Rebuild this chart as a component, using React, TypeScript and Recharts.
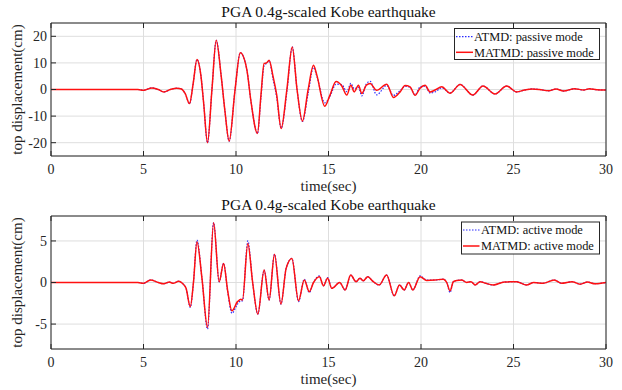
import React from 'react';
import { LineChart, Line, XAxis, YAxis, CartesianGrid } from 'recharts';

const FONT = '"Liberation Serif", "Times New Roman", serif';
const AXIS = '#262626';
const GRID = '#dedede';
const BLUE = '#2a2aff';
const RED = '#ff1010';

const TITLE = 'PGA 0.4g-scaled Kobe earthquake';
const X_LABEL = 'time(sec)';
const Y_LABEL = 'top displacement(cm)';
const X_TICKS = [0, 5, 10, 15, 20, 25, 30];
const PASSIVE_Y_TICKS = [-20, -10, 0, 10, 20];
const ACTIVE_Y_TICKS = [-5, 0, 5];
const PASSIVE_LEGEND = ['ATMD: passive mode', 'MATMD: passive mode'];
const ACTIVE_LEGEND = ['ATMD: active mode', 'MATMD: active mode'];

const PASSIVE_TIME = [
  0, 4.7, 5.0, 5.45, 5.8, 6.1, 6.45, 6.8, 7.05, 7.25, 7.49, 7.68, 7.89, 8.1, 8.25, 8.46, 8.7, 8.93,
  9.2, 9.4, 9.63, 9.95, 10.23, 10.59, 10.8, 11.16, 11.35, 11.52, 11.65, 11.79, 12.0, 12.2, 12.44,
  12.75, 13.04, 13.3, 13.59, 13.9, 14.19, 14.37, 14.8, 15.08, 15.41, 15.72, 15.99, 16.21, 16.39,
  16.62, 16.8, 17.04, 17.25, 17.6, 18.15, 18.51, 18.87, 19.14, 19.41, 19.68, 19.95, 20.22, 20.49,
  20.76, 21.12, 21.57, 22.11, 22.8, 23.35, 24.0, 24.63, 25.17, 25.6, 26.0, 26.4, 26.9, 27.3, 27.7,
  28.3, 28.8, 29.1, 29.5, 30,
];
const PASSIVE_MATMD = [
  0, 0, -0.3, 0.6, 0, -0.9, 0, 0.5, 0.2, -1.5, -5.3, 2, 11.3, 5.4, -5, -20, 0, 18.5,
  5, -8, -19.4, 0, 13.8, 7.3, -4, -16.5, -2, 9.8, 10, 11, 5, -2, -14.7,
  0, 16, 0, -11.9, 0, 9.1, 5.4, -6.3, -2.1, 3, 1.3, -2.1, 1.6, -0.9,
  1.6, -1.5, 1.6, 2.3, -0.3, 2.0, -3.0, -0.9, 1.5, 1.0, -2.2, 0.5, 1.6, -0.9,
  -0.2, 1.0, -1.4, 1.9, -2.1, 1.3, -1.7, 1.3, -0.9, -0.2, 0.2, 0.0, -0.5, 0.2, -0.6,
  0.3, -0.2, 0.3, -0.1, -0.2,
];
const PASSIVE_ATMD = [
  0, 0, -0.3, 0.6, 0, -0.9, 0, 0.5, 0.2, -1.5, -5.3, 2, 11.3, 5.4, -5, -20, 0, 18.5,
  5, -8, -19.4, 0, 13.8, 7.3, -4, -16.5, -3, 9.0, 9.8, 10.8, 4, -3, -14.5,
  -1, 16, 0, -12, -1.5, 8.3, 5.0, -5.0, -2.5, 2, 1.8, -0.8, 2.3, 0.3,
  0.8, -2.4, 2.0, 3.1, -2.0, 1.5, -2.2, -0.4, 1.2, 0.8, -2.0, 1.0, 1.3, -1.3,
  -0.9, 0.6, -1.3, 1.9, -2.1, 1.3, -1.7, 1.3, -0.9, -0.2, 0.2, 0.0, -0.5, 0.2, -0.6,
  0.3, -0.2, 0.3, -0.1, -0.2,
];

const ACTIVE_TIME = [
  0, 4.7, 5.0, 5.38, 5.8, 6.09, 6.4, 6.6, 6.9, 7.1, 7.3, 7.53, 7.7, 7.89, 8.16, 8.46, 8.79, 9.09,
  9.33, 9.55, 9.78, 10.08, 10.26, 10.35, 10.64, 10.9, 11.18, 11.52, 11.79, 12.08, 12.43, 12.71,
  13.02, 13.38, 13.69, 13.96, 14.19, 14.51, 14.73, 14.95, 15.18, 15.6, 15.9, 16.2, 16.49, 16.7,
  16.88, 17.12, 17.42, 17.74, 18.14, 18.55, 18.84, 19.09, 19.33, 19.56, 19.95, 20.31, 20.76,
  21.21, 21.39, 21.57, 21.75, 21.93, 22.2, 22.47, 22.7, 22.93, 23.2, 23.5, 23.9, 24.5, 25.17,
  25.7, 26.1, 26.6, 27.2, 27.6, 28.16, 28.6, 29.0, 29.4, 30,
];
const ACTIVE_MATMD = [
  0, 0, -0.1, 0.3, 0, -0.15, 0.05, -0.1, 0.15, -0.1, -0.7, -2.9, 0, 4.9, 0.5, -5.4, 7.2, 0.1,
  2.3, -1, -3.4, -2.3, -2.0, -2.1, 4.7, 0, -3.8, 1.5, -2.1, 3.4, -2.6, 1.7,
  2.9, -2.2, 0.3, -1.1, 0, 0.7, -0.4, 0.5, -0.7, 0, -0.9, 0.9, 0.1, 0.5,
  0.2, 0.7, 0.1, -0.3, 0.9, -1.6, -0.3, -0.9, 0, -0.9, 0.7, 0.25, 0.3,
  0.4, 0, -1.0, 0.1, 0.25, 0.3, 0, 0.1, -0.3, 0.1, -0.1, -0.3, 0.05, 0.1,
  -0.3, 0, -0.1, 0.3, -0.1, 0.1, -0.2, 0.05, -0.15, 0,
];
const ACTIVE_ATMD = [
  0, 0, -0.1, 0.3, 0, -0.15, 0.05, -0.1, 0.15, -0.1, -0.7, -3.0, 0, 5.1, 0.5, -5.6, 7.2, 0.1,
  2.3, -1.1, -3.7, -2.6, -2.2, -2.2, 5.0, 0, -3.8, 1.5, -2.1, 3.4, -2.6, 1.7,
  2.9, -2.3, 0.4, -1.2, 0, 0.8, -0.4, 0.6, -0.7, 0, -0.9, 0.9, 0.1, 0.5,
  0.2, 0.7, 0.1, -0.3, 0.9, -1.6, -0.3, -0.9, 0, -0.9, 0.8, 0.3, 0.3,
  0.4, 0, -1.2, 0.1, 0.25, 0.3, 0, 0.1, -0.3, 0.1, -0.1, -0.3, 0.05, 0.1,
  -0.3, 0, -0.1, 0.3, -0.1, 0.1, -0.2, 0.05, -0.15, 0,
];

const W = 622;
const H = 195;
const LEFT = 51;
const RIGHT = 16;
const TICK_FS = 14;
const XAXIS_H = 30;

const BottomTick = (p: any) => (
  <g>
    <line x1={p.x} x2={p.x} y1={p.y} y2={p.y - 5} stroke={AXIS} strokeWidth={1} />
    <text x={p.x} y={p.y + 17.5} textAnchor="middle" fontSize={TICK_FS} fontFamily={FONT} fill={AXIS}>
      {p.payload.value}
    </text>
  </g>
);
const TopTick = (p: any) => (
  <line x1={p.x} x2={p.x} y1={p.y} y2={p.y + 5} stroke={AXIS} strokeWidth={1} />
);
const LeftTick = (p: any) => (
  <g>
    <line x1={p.x} x2={p.x + 5} y1={p.y} y2={p.y} stroke={AXIS} strokeWidth={1} />
    <text x={p.x - 4} y={p.y + 4.8} textAnchor="end" fontSize={TICK_FS} fontFamily={FONT} fill={AXIS}>
      {p.payload.value}
    </text>
  </g>
);
const RightTick = (p: any) => (
  <line x1={p.x} x2={p.x - 5} y1={p.y} y2={p.y} stroke={AXIS} strokeWidth={1} />
);

type PanelProps = {
  time: number[];
  atmd: number[];
  matmd: number[];
  yDomain: [number, number];
  yTicks: number[];
  legend: string[];
  top: number;
  bottom: number;
  titleY: number;
  legendBox: { x: number; y: number; w: number; h: number; r1: number; r2: number; lx1: number; lx2: number; tx: number };
};

function Panel(props: PanelProps) {
  const { time, atmd, matmd, yDomain, yTicks, legend, top, bottom, titleY, legendBox } = props;
  const data = time.map((t, i) => ({ t, atmd: atmd[i], matmd: matmd[i] }));
  const plotBottom = H - bottom;
  const cx = (LEFT + (W - RIGHT)) / 2;
  const cy = (top + plotBottom) / 2;
  const lb = legendBox;
  return (
    <div style={{ position: 'relative', width: W, height: H }}>
      <LineChart
        width={W}
        height={H}
        data={data}
        margin={{ top: top - 1, right: RIGHT - 1, bottom: bottom - XAXIS_H, left: 0 }}
      >
        <CartesianGrid stroke={GRID} strokeWidth={1} />
        <XAxis
          dataKey="t"
          type="number"
          domain={[0, 30]}
          ticks={X_TICKS}
          interval={0}
          height={XAXIS_H}
          tickSize={0}
          tickMargin={0}
          tickLine={false}
          axisLine={{ stroke: AXIS }}
          tick={(p: any) => <BottomTick {...p} />}
        />
        <XAxis
          xAxisId="top"
          orientation="top"
          dataKey="t"
          type="number"
          domain={[0, 30]}
          ticks={X_TICKS}
          interval={0}
          height={1}
          tickSize={0}
          tickMargin={0}
          tickLine={false}
          axisLine={{ stroke: AXIS }}
          tick={(p: any) => <TopTick {...p} />}
        />
        <YAxis
          type="number"
          domain={yDomain}
          ticks={yTicks}
          interval={0}
          width={LEFT}
          tickSize={0}
          tickMargin={0}
          tickLine={false}
          axisLine={{ stroke: AXIS }}
          tick={(p: any) => <LeftTick {...p} />}
        />
        <YAxis
          yAxisId="r"
          orientation="right"
          type="number"
          domain={yDomain}
          ticks={yTicks}
          interval={0}
          width={1}
          tickSize={0}
          tickMargin={0}
          tickLine={false}
          axisLine={{ stroke: AXIS }}
          tick={(p: any) => <RightTick {...p} />}
        />
        <Line
          type="monotone"
          dataKey="atmd"
          stroke={BLUE}
          strokeWidth={1.2}
          strokeDasharray="1.5 1.5"
          dot={false}
          activeDot={false}
          isAnimationActive={false}
        />
        <Line
          type="monotone"
          dataKey="matmd"
          stroke={RED}
          strokeWidth={1.5}
          dot={false}
          activeDot={false}
          isAnimationActive={false}
        />
      </LineChart>
      <svg
        width={W}
        height={H}
        style={{ position: 'absolute', left: 0, top: 0, pointerEvents: 'none' }}
        fontFamily={FONT}
      >
        <text x={cx} y={titleY} textAnchor="middle" fontSize={15.5} fill="#111">
          {TITLE}
        </text>
        <text x={cx} y={plotBottom + 34.5} textAnchor="middle" fontSize={15} fill={AXIS}>
          {X_LABEL}
        </text>
        <text transform={`translate(21.5, ${cy}) rotate(-90)`} textAnchor="middle" fontSize={15} fill={AXIS}>
          {Y_LABEL}
        </text>
        <g transform={`translate(${lb.x}, ${lb.y})`}>
          <rect x={0.5} y={0.5} width={lb.w} height={lb.h} fill="#fff" stroke={AXIS} strokeWidth={1} />
          <line x1={lb.lx1} x2={lb.lx2} y1={lb.r1} y2={lb.r1} stroke={BLUE} strokeWidth={1.2} strokeDasharray="1.5 1.5" />
          <text x={lb.tx} y={lb.r1 + 4.4} fontSize={12.4} fill="#111">
            {legend[0]}
          </text>
          <line x1={lb.lx1} x2={lb.lx2} y1={lb.r2} y2={lb.r2} stroke={RED} strokeWidth={1.5} />
          <text x={lb.tx} y={lb.r2 + 4.4} fontSize={12.4} fill="#111">
            {legend[1]}
          </text>
        </g>
      </svg>
    </div>
  );
}

export default function App() {
  return (
    <div style={{ position: 'absolute', left: 0, top: 0, width: W, height: 390, background: '#fff' }}>
      <Panel
        time={PASSIVE_TIME}
        atmd={PASSIVE_ATMD}
        matmd={PASSIVE_MATMD}
        yDomain={[-25, 25]}
        yTicks={PASSIVE_Y_TICKS}
        legend={PASSIVE_LEGEND}
        top={23}
        bottom={39}
        titleY={16.5}
        legendBox={{ x: 454, y: 28, w: 145, h: 31, r1: 8.7, r2: 24.3, lx1: 2, lx2: 19, tx: 20 }}
      />
      <Panel
        time={ACTIVE_TIME}
        atmd={ACTIVE_ATMD}
        matmd={ACTIVE_MATMD}
        yDomain={[-8, 8]}
        yTicks={ACTIVE_Y_TICKS}
        legend={ACTIVE_LEGEND}
        top={21}
        bottom={41}
        titleY={14.5}
        legendBox={{ x: 461, y: 26.5, w: 138, h: 32, r1: 8.5, r2: 24.5, lx1: 2, lx2: 18.5, tx: 20 }}
      />
    </div>
  );
}
